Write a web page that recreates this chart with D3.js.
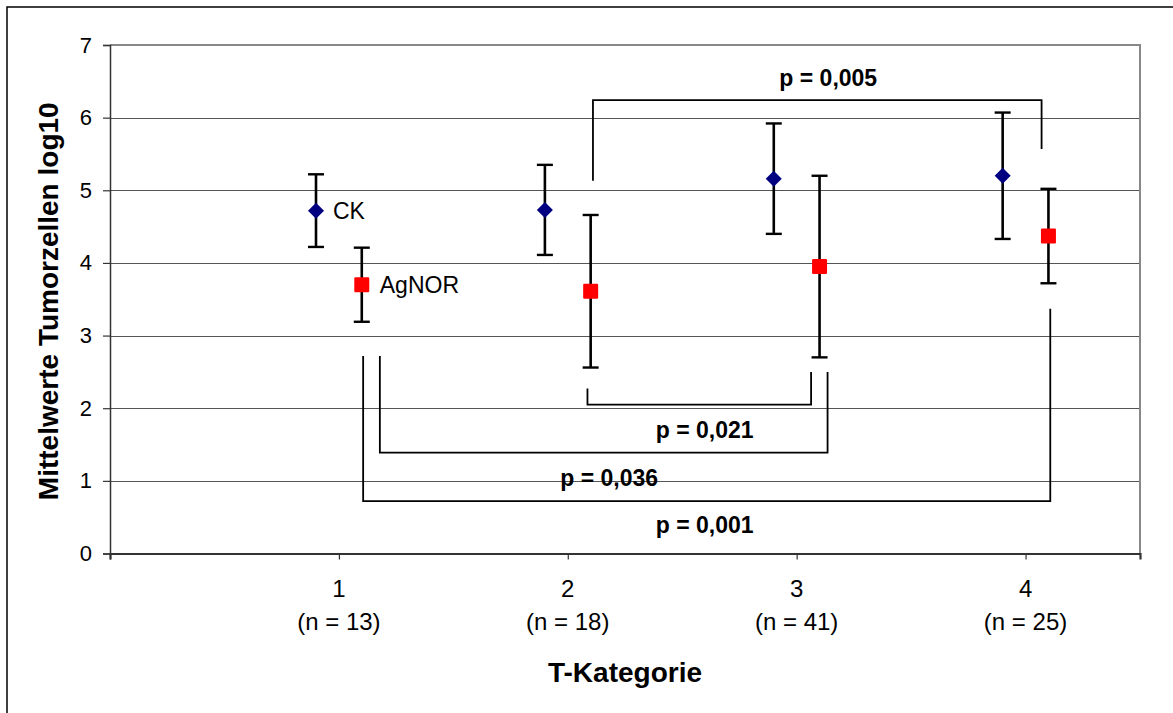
<!DOCTYPE html>
<html>
<head>
<meta charset="utf-8">
<script src="https://cdn.jsdelivr.net/npm/d3@7"></script>
<style>
  html, body { margin: 0; padding: 0; background: #fff; }
  svg { display: block; font-family: "Liberation Sans", Arial, sans-serif; }
</style>
</head>
<body>
<svg id="chart" width="1173" height="713"></svg>
<script>
// T-Kategorie groups with case counts
const categories = [1, 2, 3, 4];
const caseCounts = ["(n = 13)", "(n = 18)", "(n = 41)", "(n = 25)"];

// Mean tumour cell counts (log10) and error half-widths per method
const ckMean = [4.72, 4.73, 5.16, 5.20];
const ckErr = [0.50, 0.62, 0.76, 0.87];
const agnorMean = [3.70, 3.61, 3.95, 4.37];
const agnorErr = [0.51, 1.05, 1.25, 0.65];

const yTicks = [0, 1, 2, 3, 4, 5, 6, 7];

// Significance brackets between groups (data units)
const pLabels = ["p = 0,005", "p = 0,021", "p = 0,036", "p = 0,001"];
const bracketFrom = [2.11, 2.086, 1.179, 1.106];
const bracketTo = [4.07, 3.063, 3.135, 4.108];
const bracketFromEnd = [5.13, 2.27, 2.72, 2.72];
const bracketToEnd = [5.57, 2.50, 2.50, 3.37];
const bracketLevel = [6.24, 2.05, 1.39, 0.72];
const pLabelX = [3.138, 2.598, 2.181, 2.598];
const pLabelY = [6.433, 1.585, 0.933, 0.278];

const svg = d3.select("#chart");
const plotLeft = 110, plotRight = 1140, plotTop = 45, plotBottom = 553.5;
const x = d3.scaleLinear().domain([0, 4.5]).range([plotLeft, plotRight]);
const y = d3.scaleLinear().domain([0, 7]).range([plotBottom, plotTop]);
const offset = 0.1;

// outer chart frame
svg.append("rect").attr("x", 7).attr("y", 7).attr("width", 1200).attr("height", 800)
  .attr("fill", "none").attr("stroke", "#000").attr("stroke-width", 1.5);

// horizontal gridlines
svg.append("g").selectAll("line").data(yTicks.filter(d => d > 0 && d < 7)).join("line")
  .attr("x1", plotLeft).attr("x2", plotRight)
  .attr("y1", d => Math.round(y(d)) + 0.5).attr("y2", d => Math.round(y(d)) + 0.5)
  .attr("stroke", "#555").attr("stroke-width", 1);

// plot area border (top and right)
svg.append("path")
  .attr("d", `M${plotLeft},${y(7)}H${plotRight}V${plotBottom}`)
  .attr("fill", "none").attr("stroke", "#888").attr("stroke-width", 2);

// y axis
const yAxis = d3.axisLeft(y).tickValues(yTicks).tickFormat(d3.format("d")).tickSize(7).tickPadding(11);
const gy = svg.append("g").attr("transform", `translate(${plotLeft},0)`).call(yAxis);
gy.select(".domain").attr("stroke", "#333").attr("stroke-width", 1.5);
gy.selectAll(".tick line").attr("stroke", "#333").attr("stroke-width", 1.2);
gy.selectAll(".tick text").attr("font-size", 22).attr("fill", "#000")
  .attr("font-family", "Liberation Sans, Arial, sans-serif");

// x axis
const xAxis = d3.axisBottom(x).tickValues([0].concat(categories)).tickSize(6).tickFormat("");
const gx = svg.append("g").attr("transform", `translate(0,${plotBottom})`).call(xAxis);
gx.select(".domain").attr("stroke", "#333").attr("stroke-width", 2.2);
gx.selectAll(".tick line").attr("stroke", "#333").attr("stroke-width", 1.2);

const xl = svg.append("g").selectAll("text").data(categories).join("text")
  .attr("text-anchor", "middle").attr("font-size", 24).attr("fill", "#000");
xl.append("tspan").attr("x", d => x(d)).attr("y", 597).text(d => d);
xl.append("tspan").attr("x", d => x(d)).attr("y", 630).text((d, i) => caseCounts[i]);

// axis titles
svg.append("text").attr("x", (plotLeft + plotRight) / 2).attr("y", 681.5)
  .attr("text-anchor", "middle").attr("font-size", 28).attr("font-weight", "bold")
  .text("T-Kategorie");
svg.append("text").attr("transform", `translate(58,${(plotTop + plotBottom) / 2 + 2}) rotate(-90)`)
  .attr("text-anchor", "middle").attr("font-size", 28).attr("font-weight", "bold")
  .text("Mittelwerte Tumorzellen log10");

// significance brackets
const br = svg.append("g").attr("fill", "none").attr("stroke", "#000").attr("stroke-width", 1.8);
pLabels.forEach((lab, i) => {
  br.append("path").attr("d",
    `M${x(bracketFrom[i])},${y(bracketFromEnd[i])}V${y(bracketLevel[i])}H${x(bracketTo[i])}V${y(bracketToEnd[i])}`);
});
svg.append("g").selectAll("text").data(pLabels).join("text")
  .attr("x", (d, i) => x(pLabelX[i])).attr("y", (d, i) => y(pLabelY[i]))
  .attr("text-anchor", "middle").attr("font-size", 23).attr("font-weight", "bold")
  .text(d => d);

// error bars and markers for one series
function drawSeries(means, errs, dx, shape) {
  const g = svg.append("g");
  const cap = 8;
  means.forEach((m, i) => {
    const cx = x(categories[i] + dx);
    const lo = y(m - errs[i]), hi = y(m + errs[i]);
    g.append("line").attr("x1", cx).attr("x2", cx).attr("y1", hi).attr("y2", lo)
      .attr("stroke", "#000").attr("stroke-width", 2.6);
    [hi, lo].forEach(v => g.append("line").attr("x1", cx - cap).attr("x2", cx + cap)
      .attr("y1", v).attr("y2", v).attr("stroke", "#000").attr("stroke-width", 2.4));
  });
  means.forEach((m, i) => {
    const cx = x(categories[i] + dx), cy = y(m);
    if (shape === "diamond") {
      g.append("path").attr("d", `M${cx},${cy - 8}L${cx + 8},${cy}L${cx},${cy + 8}L${cx - 8},${cy}Z`)
        .attr("fill", "#000080");
    } else {
      g.append("rect").attr("x", cx - 7.5).attr("y", cy - 7.5).attr("width", 15).attr("height", 15)
        .attr("rx", 1.2).attr("fill", "#ff0000");
    }
  });
}
drawSeries(ckMean, ckErr, -offset, "diamond");
drawSeries(agnorMean, agnorErr, offset, "square");

// series labels beside the first group
svg.append("text").attr("x", x(categories[0] - offset) + 17).attr("y", y(ckMean[0]) + 8)
  .attr("font-size", 23).text("CK");
svg.append("text").attr("x", x(categories[0] + offset) + 18).attr("y", y(agnorMean[0]) + 8)
  .attr("font-size", 23).text("AgNOR");
</script>
</body>
</html>
